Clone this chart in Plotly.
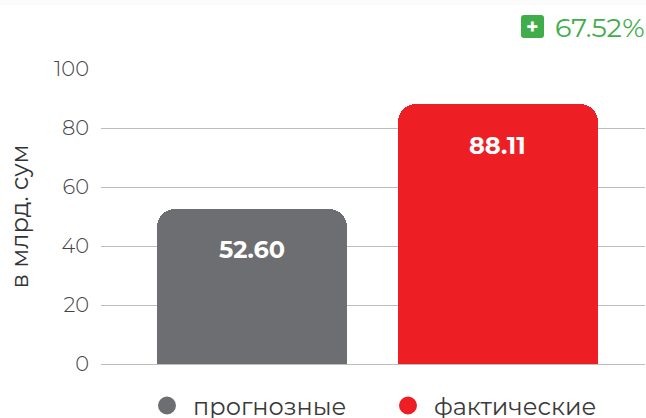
import plotly.graph_objects as go

categories = ["прогнозные", "фактические"]
values = [52.60, 88.11]
labels = ["52.60", "88.11"]
colors = ["#6d6e71", "#ed1f24"]
bar_widths = [0.772, 0.813]
tick_values = [0, 20, 40, 60, 80, 100]
y_title = "в млрд. сум"
badge_text = "+"
change_text = "67.52%"
FONT = "Montserrat, Inter"
W, H = 646, 418
GREEN = "#3fae4a"

fig = go.Figure()
fig.add_trace(go.Bar(
    x=[0, 1], y=values, width=bar_widths,
    marker=dict(color=colors, line=dict(width=0), cornerradius=18),
    showlegend=False, hoverinfo="skip",
))
for name, c, lg in zip(categories, colors, ["legend", "legend2"]):
    fig.add_trace(go.Scatter(
        x=[None], y=[None], mode="markers", name=name, legend=lg,
        marker=dict(color=c, size=16, symbol="circle", line=dict(color=c, width=2)),
    ))

for i, (v, t) in enumerate(zip(values, labels)):
    fig.add_annotation(x=i, y=v, yref="y", xref="x", text=f"<b>{t}</b>", showarrow=False,
                       yanchor="middle", yshift=-41,
                       font=dict(family=FONT, size=24, color="white"))

fig.add_annotation(xref="paper", yref="paper", x=1.0, y=1.142, xanchor="right", yanchor="middle",
                   xshift=2, text=change_text, showarrow=False,
                   font=dict(family=FONT, size=27, color=GREEN))


def px(x):
    return (x - 101) / 544


def py(y):
    return (364.5 - y) / 295.5


# faint strip along the top edge
fig.add_shape(type="rect", xref="paper", yref="paper", x0=px(0), x1=px(646), y0=py(5), y1=py(0),
              fillcolor="#fbfbfb", line_width=0, layer="below")

x0, x1, y0, y1, r = 521, 544, 15, 38, 3
path = (f"M {px(x0 + r)} {py(y0)} L {px(x1 - r)} {py(y0)} Q {px(x1)} {py(y0)} {px(x1)} {py(y0 + r)} "
        f"L {px(x1)} {py(y1 - r)} Q {px(x1)} {py(y1)} {px(x1 - r)} {py(y1)} "
        f"L {px(x0 + r)} {py(y1)} Q {px(x0)} {py(y1)} {px(x0)} {py(y1 - r)} "
        f"L {px(x0)} {py(y0 + r)} Q {px(x0)} {py(y0)} {px(x0 + r)} {py(y0)} Z")
fig.add_shape(type="path", xref="paper", yref="paper", path=path, fillcolor=GREEN, line_width=0, layer="above")
fig.add_annotation(xref="paper", yref="paper", x=px(532.5), y=py(26.5), xanchor="center", yanchor="middle",
                   text=f"<b>{badge_text}</b>", showarrow=False,
                   font=dict(family=FONT, size=21, color="white"))

legend_common = dict(orientation="h", yanchor="middle", xanchor="left", y=-0.142,
                     font=dict(family=FONT, size=24, color="#3a3a3a"), itemwidth=42,
                     bgcolor="rgba(0,0,0,0)")

fig.update_layout(
    width=W, height=H, paper_bgcolor="white", plot_bgcolor="white",
    margin=dict(l=101, r=1, t=69, b=53.5, autoexpand=False),
    bargap=0,
    xaxis=dict(range=[-0.614, 1.598], showticklabels=False, showgrid=False, zeroline=False,
               showline=False, ticks="", fixedrange=True),
    yaxis=dict(range=[0, 100], tickvals=tick_values, showgrid=True, gridcolor="#bdbdbd", gridwidth=1,
               zeroline=True, zerolinecolor="#bdbdbd", zerolinewidth=1, showline=False,
               ticks="", ticklabelstandoff=11,
               tickfont=dict(family=FONT, size=21, color="#444444", weight=300),
               title=dict(text=y_title, standoff=18, font=dict(family=FONT, size=24, color="#333333"))),
    legend=dict(x=px(141), **legend_common),
    legend2=dict(x=px(382), **legend_common),
    font=dict(family=FONT),
)
fig.write_html("out.html", config={"displayModeBar": False},
               post_script="document.body.style.margin='0';document.documentElement.style.overflow='hidden';")
